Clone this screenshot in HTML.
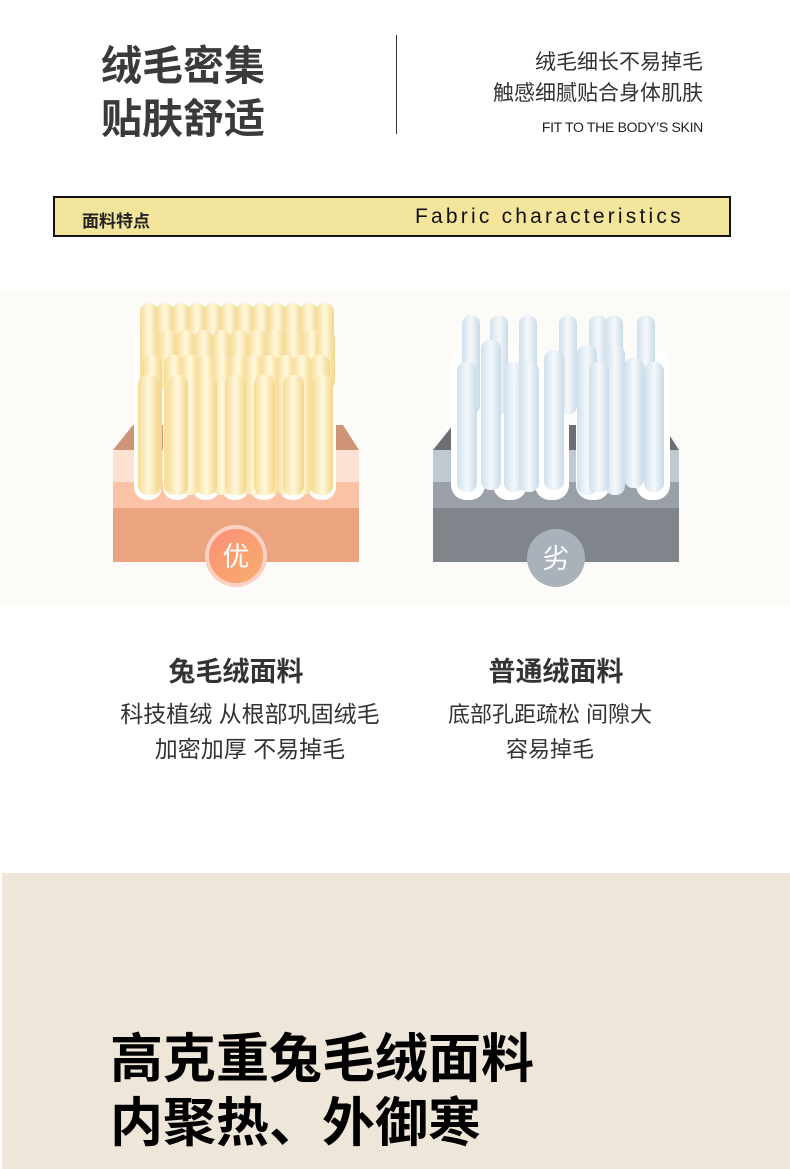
<!DOCTYPE html>
<html><head><meta charset="utf-8">
<style>
*{margin:0;padding:0;box-sizing:border-box}
body{width:790px;height:1169px;background:#fff;position:relative;overflow:hidden;font-family:"Liberation Sans","Noto Sans CJK SC",sans-serif;color:#333}
.a{position:absolute;white-space:nowrap}
</style></head><body>
<div class="a" style="left:101px;top:40px;font-size:41px;font-weight:bold;color:#3a3a3a;line-height:53px">绒毛密集<br>贴肤舒适</div>
<div class="a" style="left:396px;top:35px;width:1px;height:99px;background:#333"></div>
<div class="a" style="right:87px;top:47px;font-size:21px;color:#333;text-align:right;line-height:31px">绒毛细长不易掉毛<br>触感细腻贴合身体肌肤</div>
<div class="a" style="right:87px;top:119px;font-size:14px;color:#222;letter-spacing:-0.3px">FIT TO THE BODY’S SKIN</div>
<div class="a" style="left:53px;top:196px;width:678px;height:41px;background:#f3e59c;border:2px solid #111"></div>
<div class="a" style="left:82px;top:207px;font-size:17px;font-weight:bold;color:#222">面料特点</div>
<div class="a" style="left:415px;top:205px;font-size:21px;color:#111;letter-spacing:3.2px">Fabric characteristics</div>
<div class="a" style="left:0;top:290px;width:790px;height:315px;background:#fcfbf8"></div>
<svg class="a" style="left:0;top:290px" width="790" height="315">
<defs>
<linearGradient id="y" x1="0" x2="1"><stop offset="0" stop-color="#f6dc96"/><stop offset=".5" stop-color="#fff8dc"/><stop offset="1" stop-color="#f3d68a"/></linearGradient>
<linearGradient id="b" x1="0" x2="1"><stop offset="0" stop-color="#cfe0ec"/><stop offset=".5" stop-color="#f4f8fb"/><stop offset="1" stop-color="#c9dbe8"/></linearGradient>
<linearGradient id="o" x1="0" y1="0" x2="1" y2="1"><stop offset="0" stop-color="#fd8f78"/><stop offset="1" stop-color="#f7ad6c"/></linearGradient>
</defs>
<polygon points="133,135 343,135 359,160 113,160" fill="#cf9478"/>
<rect x="113" y="160" width="246" height="32" fill="#fde2d4"/>
<rect x="113" y="192" width="246" height="26" fill="#fcc2a5"/>
<rect x="113" y="218" width="246" height="54" fill="#eaa47f"/>
<g fill="#fff">
<rect x="134" y="40" width="28" height="170" rx="13"/><rect x="163" y="40" width="28" height="170" rx="13"/><rect x="192" y="40" width="28" height="170" rx="13"/><rect x="221" y="40" width="28" height="170" rx="13"/><rect x="250" y="40" width="28" height="170" rx="13"/><rect x="279" y="40" width="28" height="170" rx="13"/><rect x="308" y="40" width="28" height="170" rx="13"/>
</g>
<g fill="url(#y)">
<rect x="140" y="13" width="18" height="60" rx="9"/><rect x="156" y="13" width="18" height="60" rx="9"/><rect x="172" y="13" width="18" height="60" rx="9"/><rect x="188" y="13" width="18" height="60" rx="9"/><rect x="204" y="13" width="18" height="60" rx="9"/><rect x="220" y="13" width="18" height="60" rx="9"/><rect x="236" y="13" width="18" height="60" rx="9"/><rect x="252" y="13" width="18" height="60" rx="9"/><rect x="268" y="13" width="18" height="60" rx="9"/><rect x="284" y="13" width="18" height="60" rx="9"/><rect x="300" y="13" width="18" height="60" rx="9"/><rect x="316" y="13" width="18" height="60" rx="9"/>
<rect x="140" y="40" width="19" height="60" rx="9"/><rect x="158" y="40" width="19" height="60" rx="9"/><rect x="176" y="40" width="19" height="60" rx="9"/><rect x="194" y="40" width="19" height="60" rx="9"/><rect x="212" y="40" width="19" height="60" rx="9"/><rect x="230" y="40" width="19" height="60" rx="9"/><rect x="248" y="40" width="19" height="60" rx="9"/><rect x="266" y="40" width="19" height="60" rx="9"/><rect x="284" y="40" width="19" height="60" rx="9"/><rect x="302" y="40" width="19" height="60" rx="9"/><rect x="316" y="40" width="19" height="60" rx="9"/>
<rect x="142" y="65" width="20" height="140" rx="9"/><rect x="164" y="65" width="20" height="140" rx="9"/><rect x="180" y="65" width="20" height="140" rx="9"/><rect x="196" y="65" width="20" height="140" rx="9"/><rect x="212" y="65" width="20" height="140" rx="9"/><rect x="228" y="65" width="20" height="140" rx="9"/><rect x="244" y="65" width="20" height="140" rx="9"/><rect x="260" y="65" width="20" height="140" rx="9"/><rect x="276" y="65" width="20" height="140" rx="9"/><rect x="292" y="65" width="20" height="140" rx="9"/><rect x="310" y="65" width="20" height="140" rx="9"/>
<rect x="138" y="85" width="21" height="120" rx="9"/><rect x="167" y="85" width="21" height="120" rx="9"/><rect x="196" y="85" width="21" height="120" rx="9"/><rect x="225" y="85" width="21" height="120" rx="9"/><rect x="254" y="85" width="21" height="120" rx="9"/><rect x="283" y="85" width="21" height="120" rx="9"/><rect x="312" y="85" width="21" height="120" rx="9"/>
</g>
<circle cx="236" cy="266" r="31" fill="#fdd0c4"/>
<circle cx="236" cy="266" r="27" fill="url(#o)"/>
<text x="236" y="276" font-size="27" fill="#fff" text-anchor="middle" font-family="Noto Sans CJK SC,sans-serif">优</text>
<polygon points="453,135 663,135 679,160 433,160" fill="#6b6e73"/>
<rect x="433" y="160" width="246" height="32" fill="#c0c8d0"/>
<rect x="433" y="192" width="246" height="26" fill="#9aa0a8"/>
<rect x="433" y="218" width="246" height="54" fill="#80858c"/>
<g fill="#fff">
<rect x="451" y="60" width="34" height="150" rx="15"/><rect x="493" y="60" width="34" height="150" rx="15"/><rect x="535" y="60" width="34" height="150" rx="15"/><rect x="576" y="60" width="34" height="150" rx="15"/><rect x="636" y="60" width="34" height="150" rx="15"/>
</g>
<g fill="url(#b)">
<rect x="462" y="25" width="18" height="100" rx="9"/><rect x="490" y="25" width="18" height="100" rx="9"/><rect x="519" y="25" width="18" height="100" rx="9"/><rect x="559" y="25" width="18" height="100" rx="9"/><rect x="589" y="25" width="18" height="100" rx="9"/><rect x="605" y="25" width="18" height="100" rx="9"/><rect x="637" y="25" width="18" height="100" rx="9"/>
<rect x="481" y="50" width="20" height="150" rx="9"/><rect x="577" y="55" width="20" height="150" rx="9"/><rect x="605" y="55" width="20" height="150" rx="9"/>
<rect x="457" y="72" width="20" height="130" rx="9"/><rect x="504" y="72" width="20" height="130" rx="9"/><rect x="544" y="60" width="20" height="140" rx="9"/><rect x="519" y="72" width="20" height="130" rx="9"/><rect x="589" y="72" width="20" height="130" rx="9"/><rect x="624" y="68" width="20" height="130" rx="9"/><rect x="644" y="72" width="20" height="130" rx="9"/>
</g>
<circle cx="556" cy="268" r="29" fill="#a9b1ba"/>
<text x="556" y="278" font-size="27" fill="#fff" text-anchor="middle" font-family="Noto Sans CJK SC,sans-serif">劣</text>
</svg>
<div class="a" style="left:106px;top:650px;width:260px;text-align:center;font-size:27px;font-weight:bold;color:#333">兔毛绒面料</div>
<div class="a" style="left:110px;top:697px;width:280px;text-align:center;font-size:23px;color:#333;line-height:35px">科技植绒 从根部巩固绒毛<br>加密加厚 不易掉毛</div>
<div class="a" style="left:426px;top:650px;width:260px;text-align:center;font-size:27px;font-weight:bold;color:#333">普通绒面料</div>
<div class="a" style="left:410px;top:697px;width:280px;text-align:center;font-size:22px;color:#333;line-height:35px">底部孔距疏松 间隙大<br>容易掉毛</div>
<div class="a" style="left:2px;top:873px;width:788px;height:296px;background:#efe6da"></div>
<div class="a" style="left:110px;top:1028px;font-size:53px;font-weight:bold;color:#000;line-height:64px">高克重兔毛绒面料<br>内聚热、外御寒</div>
</body></html>
